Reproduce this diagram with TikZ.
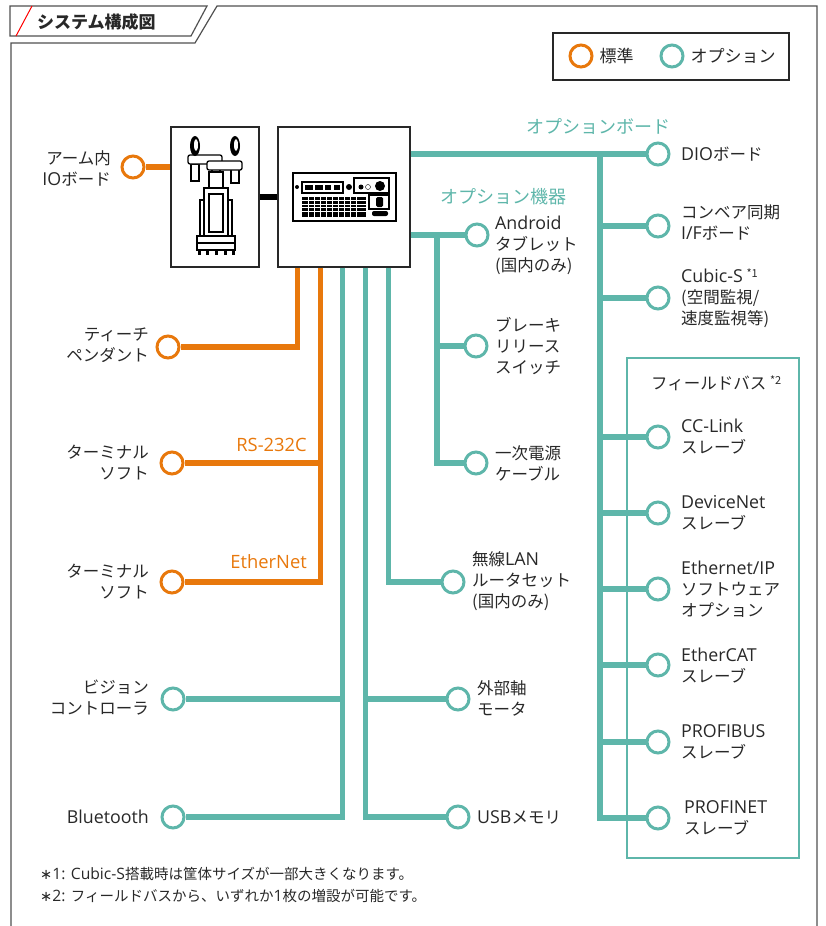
\documentclass[tikz,border=0pt]{standalone}
\usepackage{fontspec}
\setmainfont{Noto Sans CJK JP}
\newfontfamily\latfont{Open Sans}[Scale=1.08]
\newfontfamily\symfont{DejaVu Sans}
\newcommand\latword[1]{{\latfont #1}}
\usetikzlibrary{shapes,positioning,calc}
\definecolor{stdorange}{RGB}{232,120,12}
\definecolor{optteal}{RGB}{94,182,170}
\definecolor{ink}{RGB}{40,40,40}
\definecolor{framegray}{RGB}{80,80,80}

\begin{document}
\begin{tikzpicture}[x=1pt,y=-1pt,
  stdline/.style={draw=stdorange, line width=5.5pt},
  optline/.style={draw=optteal, line width=5.5pt},
  stdport/.style={circle, draw=stdorange, line width=3pt, fill=white, minimum size=22pt, inner sep=0pt},
  optport/.style={circle, draw=optteal, line width=3pt, fill=white, minimum size=22pt, inner sep=0pt},
  lbl/.style={text=ink, font=\fontsize{16.5}{21}\selectfont, inner sep=0pt, align=left, anchor=west},
  lbll/.style={lbl, align=right, anchor=east},
  grouplbl/.style={font=\fontsize{18}{18}\selectfont, inner sep=0pt},
  unitbox/.style={draw=ink, line width=1.2pt, fill=white, minimum height=140pt}]
\useasboundingbox (0,0) rectangle (826,926);

% Rahmen
\draw[framegray, line width=1.2pt] (10,6) -- (207,6) -- (191,36) -- (10,36) -- cycle;
\draw[red, line width=1pt] (32,6) -- (16,36);
\node[text=ink, font=\fontsize{17}{17}\selectfont\bfseries, anchor=west, inner sep=0pt] (title) at (37,22) {システム構成図};
\draw[framegray, line width=1.2pt] (11,926) -- (11,43) -- (195,43) -- (217,6) -- (817,6) -- (817,926);

% Legende
\node[draw=ink, line width=1.2pt, minimum width=236pt, minimum height=47pt] (legend) at (671,56.5) {};
\node[stdport] (legstd) at (581,56) {};
\node[lbl, font=\fontsize{17}{17}\selectfont, right=6pt of legstd] (legstdlbl) {標準};
\node[optport] (legopt) at (672,56) {};
\node[lbl, font=\fontsize{17}{17}\selectfont, right=6pt of legopt] (legoptlbl) {オプション};

% Roboter und Steuerung
\node[unitbox, minimum width=88pt] (robot) at (215,197) {};
\node[unitbox, minimum width=132pt] (ctrl) at (344,197) {};
\draw[line width=6pt] (robot.east) -- (ctrl.west);

\begin{scope}[line width=1.3pt]
\draw[fill=white] (197,236) rectangle (235,250);
\draw (197,243) -- (235,243);
\foreach \fx in {199,207,216,225,233} \fill (\fx-1.5,250) rectangle (\fx+1.5,255);
\draw[fill=white] (200,200) rectangle (232,236);
\draw[fill=white] (204,188) rectangle (228,236);
\draw (209,194) rectangle (223,232);
\draw[fill=white] (209,172) rectangle (223,188);
\draw[fill=white] (212,168) rectangle (220,172);
\draw[fill=white] (191,164) rectangle (199,181);
\draw[fill=white] (231,169) rectangle (239,183);
\draw[fill=white, rounded corners=2pt] (188,155) rectangle (222,164);
\draw[fill=white, rounded corners=2pt] (207,161) rectangle (242,170);
\fill (195,146) ellipse (5 and 10);
\fill[white] (196,145) ellipse (2 and 6);
\fill (235,146) ellipse (5 and 10);
\fill[white] (236,145) ellipse (2 and 6);
\end{scope}

\draw[line width=2pt, fill=white] (293,173) rectangle (396,221);
\fill (297,187) circle (2);
\draw[line width=1.2pt] (302,182) rectangle (343,193);
\foreach \bx/\bw in {305/8, 315/8, 325/6, 334/6} \fill (\bx,185) rectangle ++(\bw,5);
\fill (349,187) circle (3);
\draw[line width=1.2pt] (354,178) rectangle (389,193);
\fill (361,187) circle (2.5);
\draw (368,187) circle (2.5);
\fill (380,186) circle (5);
\fill (302,197) rectangle (366,217);
\foreach \gx in {308,314,...,360} \draw[white, line width=1pt] (\gx,197) -- (\gx,217);
\foreach \gy in {200.5,204,...,214} \draw[white, line width=0.8pt] (302,\gy) -- (366,\gy);
\draw[line width=1.2pt] (369,195) rectangle (389,209);
\fill[rounded corners=1.5pt] (376,197) rectangle (383,207);
\fill[rounded corners=2pt] (372,211) rectangle (388,216);

% Anschluesse
\node[stdport] (armio) at (133,167) {};
\node[stdport] (teach) at (168,347) {};
\node[stdport] (term1) at (172,463) {};
\node[stdport] (term2) at (172,582) {};
\node[optport] (vision) at (173,699) {};
\node[optport] (bt) at (173,817) {};
\node[optport] (ext) at (458,699) {};
\node[optport] (usb) at (458,817) {};
\node[optport] (wlan) at (453,582) {};
\node[optport] (android) at (477,235) {};
\node[optport] (brake) at (476,346) {};
\node[optport] (power) at (476,463) {};
\node[draw=optteal, line width=1.2pt, minimum width=172pt, minimum height=500pt] (fieldbus) at (713,608) {};
\node[optport] (dio) at (658,154) {};
\node[optport] (conv) at (658,226) {};
\node[optport] (cubic) at (658,298) {};
\node[optport] (cclink) at (658,437) {};
\node[optport] (devnet) at (658,513) {};
\node[optport] (eip) at (658,589) {};
\node[optport] (ecat) at (658,665) {};
\node[optport] (pfbus) at (658,742) {};
\node[optport] (pfnet) at (658,818) {};

% Leitungen
\coordinate (pA) at ($(ctrl.south west)+(20,0)$);
\coordinate (pB) at ($(ctrl.south west)+(43,0)$);
\coordinate (tA) at ($(ctrl.south west)+(65,0)$);
\coordinate (tB) at ($(ctrl.south west)+(88,0)$);
\coordinate (tC) at ($(ctrl.south west)+(111,0)$);
\coordinate (bus) at (600,154);
\coordinate (dev) at (437,235);

\draw[stdline] (armio.east) -- (robot.west |- armio);
\draw[stdline] (pA) |- (teach.east);
\draw[stdline] (pB) |- (term2.east);
\draw[stdline] (pB |- term1) -- (term1.east);
\draw[optline] (tA) |- (bt.east);
\draw[optline] (tA |- vision) -- (vision.east);
\draw[optline] (tB) |- (usb.west);
\draw[optline] (tB |- ext) -- (ext.west);
\draw[optline] (tC) |- (wlan.west);
\draw[optline] (ctrl.east |- android) -- (android.west);
\draw[optline] (dev) |- (power.west);
\draw[optline] (dev |- brake) -- (brake.west);
\draw[optline] (ctrl.east |- dio) -- (dio.west);
\draw[optline] (bus) |- (pfnet.west);
\foreach \p in {conv,cubic,cclink,devnet,eip,ecat,pfbus}
  \draw[optline] (bus |- \p) -- (\p.west);

% Beschriftungen
\node[lbll] (armiolbl) at (111,168) {アーム内\\\latword{IO}ボード};
\node[lbll] (teachlbl) at (149,345) {ティーチ\\ペンダント};
\node[lbll] (term1lbl) at (149,463) {ターミナル\\ソフト};
\node[lbll] (term2lbl) at (149,582) {ターミナル\\ソフト};
\node[lbll] (visionlbl) at (149,698) {ビジョン\\コントローラ};
\node[lbll] (btlbl) at (149,817) {\latword{Bluetooth}};
\node[grouplbl, text=stdorange, font=\fontsize{17}{17}\selectfont, anchor=east] (rslbl) at (307,445) {\latword{RS-232C}};
\node[grouplbl, text=stdorange, font=\fontsize{17}{17}\selectfont, anchor=east] (etherlbl) at (307,562) {\latword{EtherNet}};
\node[lbl] (extlbl) at (477,698) {外部軸\\モータ};
\node[lbl] (usblbl) at (477,817) {\latword{USB}メモリ};
\node[lbl] (wlanlbl) at (472,581) {無線\latword{LAN}\\ルータセット\\(国内のみ)};
\node[lbl] (androidlbl) at (495,245) {\latword{Android}\\タブレット\\(国内のみ)};
\node[lbl] (brakelbl) at (495,346) {ブレーキ\\リリース\\スイッチ};
\node[lbl] (powerlbl) at (495,463) {一次電源\\ケーブル};
\node[grouplbl, text=optteal, anchor=east] (boardlbl) at (671,127) {オプションボード};
\node[grouplbl, text=optteal, anchor=west] (devlbl) at (440,197) {オプション機器};
\node[lbl] (diolbl) at (681,154) {\latword{DIO}ボード};
\node[lbl] (convlbl) at (681,223) {コンベア同期\\\latword{I/F}ボード};
\node[lbl] (cubiclbl) at (681,298) {\latword{Cubic-S} {\fontsize{11}{11}\selectfont\raisebox{5pt}{*1}}\\(空間監視/\\速度監視等)};
\node[lbl] (fieldbuslbl) at (651,383) {フィールドバス {\fontsize{11}{11}\selectfont\raisebox{5pt}{*2}}};
\node[lbl] (cclinklbl) at (681,437) {\latword{CC-Link}\\スレーブ};
\node[lbl] (devnetlbl) at (681,513) {\latword{DeviceNet}\\スレーブ};
\node[lbl] (eiplbl) at (681,589) {\latword{Ethernet/IP}\\ソフトウェア\\オプション};
\node[lbl] (ecatlbl) at (681,666) {\latword{EtherCAT}\\スレーブ};
\node[lbl] (pfbuslbl) at (681,742) {\latword{PROFIBUS}\\スレーブ};
\node[lbl] (pfnetlbl) at (684,818) {\latword{PROFINET}\\スレーブ};

% Fussnoten
\node[lbl, font=\fontsize{14.5}{22}\selectfont] (notes) at (40,885) {{\symfont ∗}\latword{1: Cubic-S}搭載時は筐体サイズが一部大きくなります。\\{\symfont ∗}\latword{2: }フィールドバスから、いずれか\latword{1}枚の増設が可能です。};
\end{tikzpicture}
\end{document}
